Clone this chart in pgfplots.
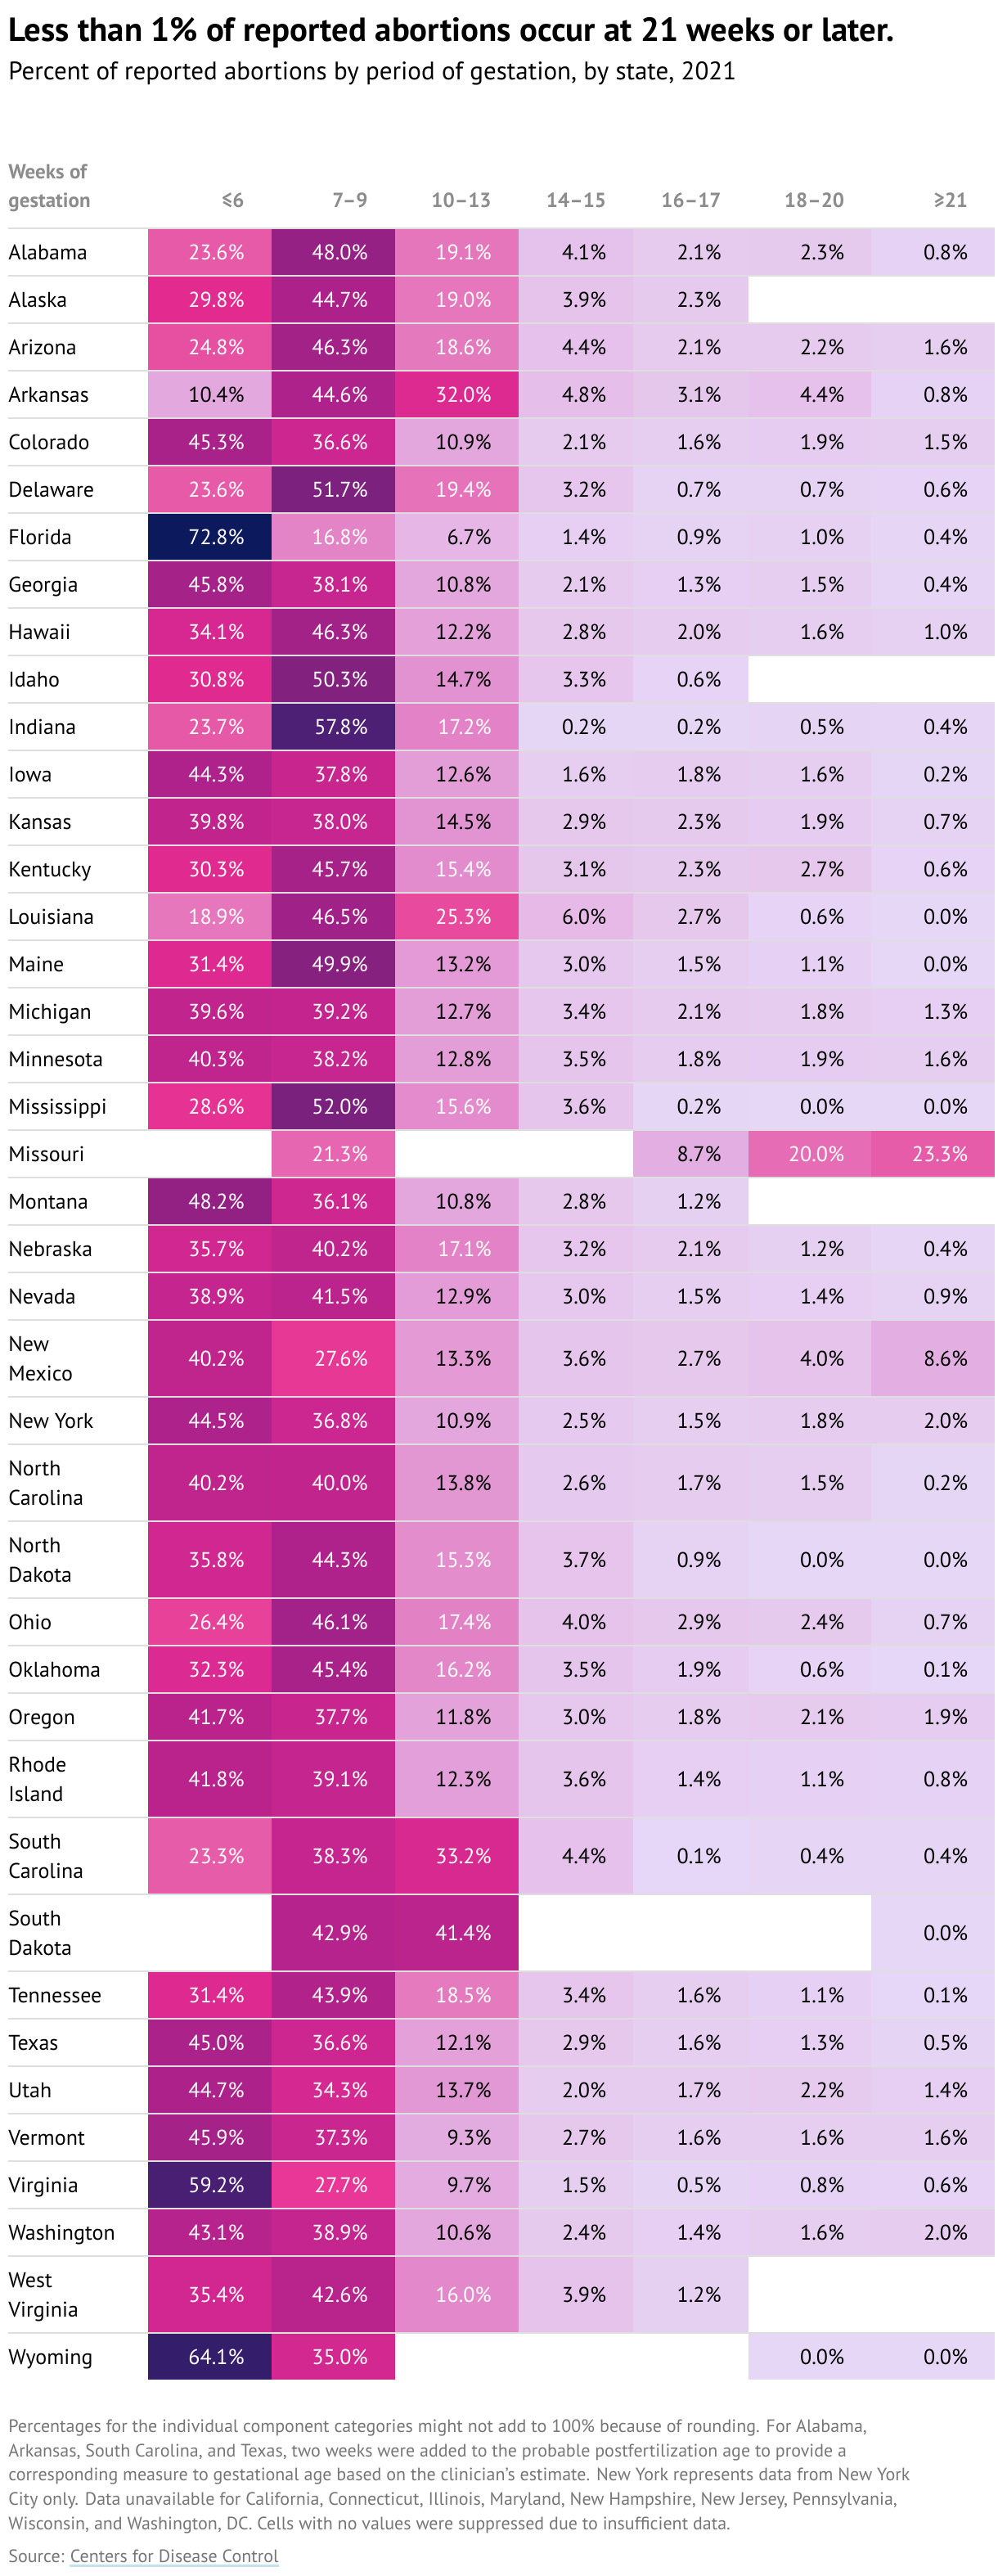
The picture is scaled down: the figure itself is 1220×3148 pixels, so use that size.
\documentclass[border=0pt]{standalone}
\usepackage{pgfplots}
\pgfplotsset{compat=1.18}
\usepackage{pgfplotstable}
\usepackage{fontspec}
\setmainfont{PT Sans}
\definecolor{hdrgray}{HTML}{8C8C8C}
\definecolor{notegray}{HTML}{767676}
\definecolor{sepgray}{HTML}{DEDEDE}
\definecolor{linkblue}{HTML}{C3E2EF}
\newcommand\titlefont{\fontsize{20.4}{24}\selectfont\bfseries}
\newcommand\subfont{\fontsize{15.5}{18}\selectfont}
\newcommand\hdrfont{\fontsize{12.5}{15}\selectfont\bfseries}
\newcommand\valfont{\fontsize{13}{15}\selectfont}
\newcommand\notefont{\fontsize{11}{14}\selectfont}

% yc = row centre (px from top), h = row height (px); -1 = no value (suppressed)
\pgfplotstableread{
state          yc    h   a     b     c     d    e    f     g
Alabama        308   56  23.6  48.0  19.1  4.1  2.1  2.3   0.8
Alaska         366   56  29.8  44.7  19.0  3.9  2.3  -1    -1
Arizona        424   56  24.8  46.3  18.6  4.4  2.1  2.2   1.6
Arkansas       482   56  10.4  44.6  32.0  4.8  3.1  4.4   0.8
Colorado       540   56  45.3  36.6  10.9  2.1  1.6  1.9   1.5
Delaware       598   56  23.6  51.7  19.4  3.2  0.7  0.7   0.6
Florida        656   56  72.8  16.8  6.7   1.4  0.9  1.0   0.4
Georgia        714   56  45.8  38.1  10.8  2.1  1.3  1.5   0.4
Hawaii         772   56  34.1  46.3  12.2  2.8  2.0  1.6   1.0
Idaho          830   56  30.8  50.3  14.7  3.3  0.6  -1    -1
Indiana        888   56  23.7  57.8  17.2  0.2  0.2  0.5   0.4
Iowa           946   56  44.3  37.8  12.6  1.6  1.8  1.6   0.2
Kansas         1004  56  39.8  38.0  14.5  2.9  2.3  1.9   0.7
Kentucky       1062  56  30.3  45.7  15.4  3.1  2.3  2.7   0.6
Louisiana      1120  56  18.9  46.5  25.3  6.0  2.7  0.6   0.0
Maine          1178  56  31.4  49.9  13.2  3.0  1.5  1.1   0.0
Michigan       1236  56  39.6  39.2  12.7  3.4  2.1  1.8   1.3
Minnesota      1294  56  40.3  38.2  12.8  3.5  1.8  1.9   1.6
Mississippi    1352  56  28.6  52.0  15.6  3.6  0.2  0.0   0.0
Missouri       1410  56  -1    21.3  -1    -1   8.7  20.0  23.3
Montana        1468  56  48.2  36.1  10.8  2.8  1.2  -1    -1
Nebraska       1526  56  35.7  40.2  17.1  3.2  2.1  1.2   0.4
Nevada         1584  56  38.9  41.5  12.9  3.0  1.5  1.4   0.9
NewMexico      1660  92  40.2  27.6  13.3  3.6  2.7  4.0   8.6
NewYork        1736  56  44.5  36.8  10.9  2.5  1.5  1.8   2.0
NorthCarolina  1812  92  40.2  40.0  13.8  2.6  1.7  1.5   0.2
NorthDakota    1906  92  35.8  44.3  15.3  3.7  0.9  0.0   0.0
Ohio           1982  56  26.4  46.1  17.4  4.0  2.9  2.4   0.7
Oklahoma       2040  56  32.3  45.4  16.2  3.5  1.9  0.6   0.1
Oregon         2098  56  41.7  37.7  11.8  3.0  1.8  2.1   1.9
RhodeIsland    2174  92  41.8  39.1  12.3  3.6  1.4  1.1   0.8
SouthCarolina  2268  92  23.3  38.3  33.2  4.4  0.1  0.4   0.4
SouthDakota    2362  92  -1    42.9  41.4  -1   -1   -1    0.0
Tennessee      2438  56  31.4  43.9  18.5  3.4  1.6  1.1   0.1
Texas          2496  56  45.0  36.6  12.1  2.9  1.6  1.3   0.5
Utah           2554  56  44.7  34.3  13.7  2.0  1.7  2.2   1.4
Vermont        2612  56  45.9  37.3  9.3   2.7  1.6  1.6   1.6
Virginia       2670  56  59.2  27.7  9.7   1.5  0.5  0.8   0.6
Washington     2728  56  43.1  38.9  10.6  2.4  1.4  1.6   2.0
WestVirginia   2804  92  35.4  42.6  16.0  3.9  1.2  -1    -1
Wyoming        2880  56  64.1  35.0  -1    -1   -1   0.0   0.0
}\abortdata

% cell marks: width x height in px, drawn at 0.5pt per px
\pgfdeclareplotmark{cellAs}{\pgfpathrectangle{\pgfqpoint{-37.75pt}{-14pt}}{\pgfqpoint{75.5pt}{28pt}}\pgfusepathqfill}
\pgfdeclareplotmark{cellAd}{\pgfpathrectangle{\pgfqpoint{-37.75pt}{-23pt}}{\pgfqpoint{75.5pt}{46pt}}\pgfusepathqfill}
\pgfdeclareplotmark{cellBs}{\pgfpathrectangle{\pgfqpoint{-35.125pt}{-14pt}}{\pgfqpoint{70.25pt}{28pt}}\pgfusepathqfill}
\pgfdeclareplotmark{cellBd}{\pgfpathrectangle{\pgfqpoint{-35.125pt}{-23pt}}{\pgfqpoint{70.25pt}{46pt}}\pgfusepathqfill}
\pgfdeclareplotmark{cellCs}{\pgfpathrectangle{\pgfqpoint{-37.625pt}{-14pt}}{\pgfqpoint{75.25pt}{28pt}}\pgfusepathqfill}
\pgfdeclareplotmark{cellCd}{\pgfpathrectangle{\pgfqpoint{-37.625pt}{-23pt}}{\pgfqpoint{75.25pt}{46pt}}\pgfusepathqfill}

\pgfplotsset{
  colormap={abort}{
    rgb255(0pt)=(230,215,247)
    rgb255(10pt)=(230,209,243)
    rgb255(21pt)=(230,203,239)
    rgb255(33pt)=(230,198,236)
    rgb255(44pt)=(229,193,235)
    rgb255(60pt)=(230,185,231)
    rgb255(67pt)=(229,182,230)
    rgb255(86pt)=(227,175,226)
    rgb255(104pt)=(227,168,222)
    rgb255(122pt)=(227,160,217)
    rgb255(145pt)=(226,147,209)
    rgb255(160pt)=(227,136,202)
    rgb255(172pt)=(227,130,198)
    rgb255(191pt)=(230,118,187)
    rgb255(200pt)=(230,108,181)
    rgb255(213pt)=(230,102,177)
    rgb255(236pt)=(230,90,167)
    rgb255(253pt)=(232,74,158)
    rgb255(276pt)=(232,56,150)
    rgb255(298pt)=(227,42,143)
    rgb255(320pt)=(220,42,145)
    rgb255(357pt)=(209,39,144)
    rgb255(381pt)=(199,37,143)
    rgb255(402pt)=(192,36,141)
    rgb255(429pt)=(183,35,140)
    rgb255(453pt)=(169,34,138)
    rgb255(480pt)=(149,33,133)
    rgb255(503pt)=(131,33,127)
    rgb255(520pt)=(122,33,126)
    rgb255(578pt)=(78,32,117)
    rgb255(592pt)=(72,31,114)
    rgb255(641pt)=(52,30,107)
    rgb255(728pt)=(12,26,93)
  },
  cells/.style 2 args={
    scatter, only marks, mark=#2,
    scatter/use mapped color={draw=mapped color, fill=mapped color},
    point meta=explicit,
  },
  vals/.style 2 args={
    draw=none, mark=none,
    point meta=explicit symbolic,
    nodes near coords={\pgfplotspointmeta\%},
    every node near coord/.append style={anchor=base east, inner sep=0pt,
      xshift=#1, yshift=-4.5pt, font=\valfont, text=#2},
  },
}
% #1 column, #2 x centre (px), #3 mark family, #4 label xshift
\newcommand\cellcolumn[4]{%
  \addplot[cells={#1}{cell#3s}, restrict expr to domain={\thisrow{#1}+1000*(\thisrow{h}>60)}{0:100}]
    table[x expr=#2, y=yc, meta=#1]{\abortdata};
  \addplot[cells={#1}{cell#3d}, restrict expr to domain={\thisrow{#1}+1000*(\thisrow{h}<60)}{0:100}]
    table[x expr=#2, y=yc, meta=#1]{\abortdata};
  \addplot[vals={#4}{white}, restrict expr to domain={\thisrow{#1}}{15:100}]
    table[x expr=#2, y=yc, meta=#1]{\abortdata};
  \addplot[vals={#4}{black}, restrict expr to domain={\thisrow{#1}}{0:14.95}]
    table[x expr=#2, y=yc, meta=#1]{\abortdata};
}

\begin{document}
\begin{tikzpicture}
\begin{axis}[
  x=0.5pt, y=0.5pt, y dir=reverse,
  xmin=0, xmax=1220, ymin=0, ymax=3148,
  hide axis, clip=false,
  colormap name=abort,
  point meta min=0, point meta max=72.8,
]
\path (0,0) rectangle (1220,3148);
\cellcolumn{a}{256}{A}{21.5pt}
\cellcolumn{b}{407}{A}{21.5pt}
\cellcolumn{c}{558}{A}{21.5pt}
\cellcolumn{d}{703.75}{B}{18.875pt}
\cellcolumn{e}{844.25}{B}{18.875pt}
\cellcolumn{f}{989.75}{C}{21.375pt}
\cellcolumn{g}{1140.5}{A}{21.5pt}

\pgfplotsinvokeforeach{279,337,395,453,511,569,627,685,743,801,859,917,975,1033,1091,1149,1207,1265,1323,1381,1439,1497,1555,1613,1707,1765,1859,1953,2011,2069,2127,2221,2315,2409,2467,2525,2583,2641,2699,2757,2851}{
  \draw[sepgray, line width=1pt] (10,#1) -- (1216,#1);
}

\node[anchor=base west, inner sep=0, font=\titlefont] at (10,50) {Less than 1\% of reported abortions occur at 21 weeks or later.};
\node[anchor=base west, inner sep=0, font=\subfont] at (10,97) {Percent of reported abortions by period of gestation, by state, 2021};
\node[anchor=base west, inner sep=0, font=\hdrfont, text=hdrgray] at (10,218) {Weeks of};
\node[anchor=base west, inner sep=0, font=\hdrfont, text=hdrgray] at (10,253) {gestation};
\foreach \xx/\lab in {299/≤6, 450/7–9, 601/10–13, 741.5/14–15, 882/16–17, 1032.5/18–20, 1183.5/≥21}{%
  \edef\doit{\noexpand\node[anchor=base east, inner sep=0, font=\noexpand\hdrfont, text=hdrgray] at (\xx,253) {\lab};}\doit}
\foreach \yy/\nm in {317/Alabama, 375/Alaska, 433/Arizona, 491/Arkansas, 549/Colorado, 607/Delaware, 665/Florida, 723/Georgia, 781/Hawaii, 839/Idaho, 897/Indiana, 955/Iowa, 1013/Kansas, 1071/Kentucky, 1129/Louisiana, 1187/Maine, 1245/Michigan, 1303/Minnesota, 1361/Mississippi, 1419/Missouri, 1477/Montana, 1535/Nebraska, 1593/Nevada, 1651/New, 1687/Mexico, 1745/New York, 1803/North, 1839/Carolina, 1897/North, 1933/Dakota, 1991/Ohio, 2049/Oklahoma, 2107/Oregon, 2165/Rhode, 2201/Island, 2259/South, 2295/Carolina, 2353/South, 2389/Dakota, 2447/Tennessee, 2505/Texas, 2563/Utah, 2621/Vermont, 2679/Virginia, 2737/Washington, 2795/West, 2831/Virginia, 2889/Wyoming}{%
  \edef\doit{\noexpand\node[anchor=base west, inner sep=0, font=\noexpand\valfont] at (10,\yy) {\nm};}\doit}

\node[anchor=base west, inner sep=0, font=\notefont, text=notegray] at (10,2972) {Percentages for the individual component categories might not add to 100\% because of rounding. For Alabama,};
\node[anchor=base west, inner sep=0, font=\notefont, text=notegray] at (10,3002) {Arkansas, South Carolina, and Texas, two weeks were added to the probable postfertilization age to provide a};
\node[anchor=base west, inner sep=0, font=\notefont, text=notegray] at (10,3031) {corresponding measure to gestational age based on the clinician’s estimate. New York represents data from New York};
\node[anchor=base west, inner sep=0, font=\notefont, text=notegray] at (10,3061) {City only. Data unavailable for California, Connecticut, Illinois, Maryland, New Hampshire, New Jersey, Pennsylvania,};
\node[anchor=base west, inner sep=0, font=\notefont, text=notegray] at (10,3091) {Wisconsin, and Washington, DC. Cells with no values were suppressed due to insufficient data.};
\node[anchor=base west, inner sep=0, font=\notefont, text=notegray] (s1) at (10,3131) {Source:};
\node[anchor=base west, inner sep=0, font=\notefont, text=notegray] (s2) at ([xshift=3.2pt]s1.base east) {Centers for Disease Control};
\draw[linkblue, line width=1.5pt] ([yshift=-2.4pt]s2.base west) -- ([yshift=-2.4pt]s2.base east);
\end{axis}
\end{tikzpicture}
\end{document}
